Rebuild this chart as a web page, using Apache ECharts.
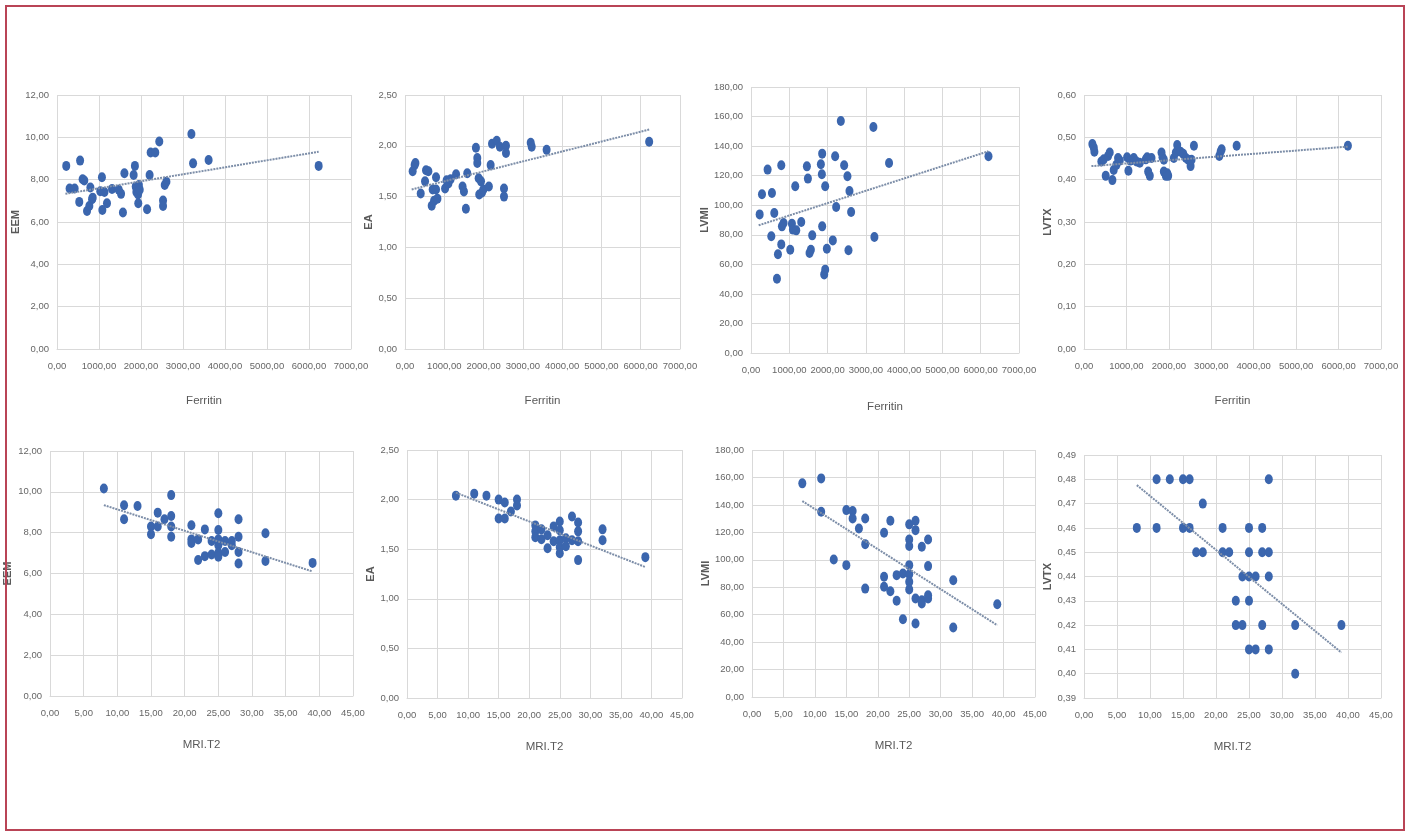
<!DOCTYPE html>
<html>
<head>
<meta charset="utf-8">
<title>Ferritin / MRI T2 scatter</title>
<script src="https://cdn.jsdelivr.net/npm/echarts@6/dist/echarts.min.js"></script>
<style>
  html, body { margin: 0; padding: 0; background: #fff; }
  #chart { width: 1415px; height: 832px; }
</style>
</head>
<body>
<div id="chart"></div>
<script>
// --- data ---
var eemFerritin = [[220,8.65],[300,7.58],[420,7.58],[550,8.9],[530,6.95],[610,8.02],[650,7.96],[715,6.52],[795,7.63],[770,6.76],[835,7.08],[850,7.15],[1030,7.45],[1070,8.11],[1080,6.57],[1130,7.42],[1190,6.89],[1310,7.56],[1470,7.52],[1525,7.33],[1570,6.45],[1605,8.3],[1825,8.22],[1855,8.65],[1875,7.67],[1890,7.42],[1930,7.3],[1950,7.75],[1935,6.89],[1970,7.52],[2145,6.6],[2205,8.22],[2230,9.28],[2340,9.28],[2435,9.8],[2525,7.01],[2525,6.76],[2565,7.75],[2605,7.9],[3200,10.16],[3240,8.77],[3610,8.93],[6230,8.65]];
var eaFerritin = [[195,1.75],[245,1.81],[265,1.83],[400,1.53],[510,1.65],[535,1.76],[595,1.75],[680,1.41],[705,1.57],[740,1.46],[790,1.69],[825,1.48],[790,1.57],[1020,1.58],[1060,1.66],[1105,1.63],[1160,1.67],[1300,1.72],[1465,1.6],[1500,1.55],[1550,1.38],[1585,1.73],[1805,1.98],[1840,1.88],[1840,1.83],[1875,1.68],[1890,1.52],[1935,1.65],[1960,1.54],[1995,1.57],[2135,1.6],[2180,1.81],[2215,2.02],[2335,2.05],[2415,1.99],[2520,1.58],[2520,1.5],[2570,2.0],[2570,1.93],[3200,2.03],[3225,1.99],[3605,1.96],[6215,2.04]];
var lvmiFerritin = [[226,93.8],[287,107.4],[434,124.1],[530,79],[547,108.3],[608,94.7],[678,50.3],[704,66.8],[791,127],[791,73.5],[808,85.7],[851,88],[1025,69.9],[1069,87.5],[1095,83.5],[1182,83],[1156,112.8],[1312,88.7],[1460,126.3],[1486,118],[1529,67.7],[1564,69.9],[1599,79.6],[1825,127.7],[1859,134.9],[1851,120.9],[1859,85.7],[1938,112.8],[1912,53.2],[1938,56.4],[1981,70.6],[2137,76.2],[2198,133.1],[2224,98.8],[2346,157],[2433,127],[2519,119.6],[2546,69.5],[2572,109.6],[2615,95.4],[3197,152.9],[3223,78.5],[3606,128.6],[6203,133.1]];
var lvtxFerritin = [[197,0.484],[230,0.476],[245,0.466],[409,0.443],[465,0.448],[512,0.409],[567,0.456],[606,0.464],[669,0.399],[700,0.423],[764,0.435],[803,0.451],[843,0.445],[1016,0.453],[1047,0.421],[1094,0.445],[1173,0.451],[1236,0.443],[1315,0.44],[1457,0.448],[1488,0.453],[1512,0.419],[1551,0.409],[1591,0.451],[1827,0.464],[1850,0.453],[1882,0.447],[1882,0.419],[1929,0.409],[1961,0.415],[1984,0.409],[2118,0.451],[2165,0.464],[2197,0.482],[2276,0.466],[2339,0.461],[2402,0.451],[2457,0.447],[2512,0.432],[2535,0.447],[2591,0.48],[3189,0.456],[3220,0.466],[3244,0.472],[3598,0.48],[6220,0.48]];

var eemT2 = [[8,10.16],[11,9.34],[11,8.66],[13,9.31],[15,8.3],[15,7.92],[16,8.98],[16,8.3],[17,8.66],[18,9.84],[18,8.82],[18,8.3],[18,7.8],[21,8.36],[21,7.67],[21,7.5],[22,7.67],[22,6.66],[23,8.16],[23,6.85],[24,7.59],[24,6.93],[25,8.95],[25,8.13],[25,7.67],[25,7.38],[25,7.02],[25,6.82],[26,7.59],[26,7.05],[27,7.59],[27,7.38],[28,8.66],[28,7.8],[28,7.05],[28,6.49],[32,7.97],[32,6.61],[39,6.52]];
var eaT2 = [[8,2.04],[11,2.06],[13,2.04],[15,2.0],[15,1.81],[16,1.97],[16,1.81],[17,1.88],[18,2.0],[18,1.94],[21,1.74],[21,1.68],[21,1.62],[22,1.7],[22,1.6],[23,1.64],[23,1.51],[24,1.73],[24,1.58],[25,1.78],[25,1.69],[25,1.59],[25,1.52],[25,1.46],[26,1.61],[26,1.53],[27,1.83],[27,1.59],[28,1.77],[28,1.68],[28,1.58],[28,1.39],[32,1.7],[32,1.59],[39,1.42]];
var lvmiT2 = [[8,155.7],[11,159.3],[11,135],[13,100.2],[15,136.2],[15,96.1],[16,135.5],[16,130.1],[17,122.8],[18,130.1],[18,111.4],[18,79],[21,119.7],[21,87.6],[21,80.3],[22,128.4],[22,77.1],[23,70.1],[23,88.8],[24,90],[24,56.7],[25,125.8],[25,114.8],[25,110],[25,96.1],[25,89.5],[25,83.9],[25,78.3],[26,128.4],[26,121.6],[26,71.8],[26,53.5],[27,109.5],[27,70.5],[27,68.1],[28,114.8],[28,95.4],[28,74.2],[28,71.8],[32,85.1],[32,50.6],[39,67.6]];
var lvtxT2 = [[11,0.48],[13,0.48],[15,0.48],[16,0.48],[28,0.48],[18,0.47],[8,0.46],[11,0.46],[15,0.46],[16,0.46],[21,0.46],[25,0.46],[27,0.46],[17,0.45],[18,0.45],[21,0.45],[22,0.45],[25,0.45],[27,0.45],[28,0.45],[24,0.44],[25,0.44],[26,0.44],[28,0.44],[23,0.43],[25,0.43],[23,0.42],[24,0.42],[27,0.42],[32,0.42],[39,0.42],[25,0.41],[26,0.41],[28,0.41],[32,0.40]];

// trend line end points as drawn in the figure
var trendEemFerritin = [[200,7.33],[6230,9.32]];
var trendEaFerritin = [[170,1.57],[6215,2.16]];
var trendLvmiFerritin = [[200,86.4],[6200,136.5]];
var trendLvtxFerritin = [[175,0.432],[6220,0.478]];
var trendEemT2 = [[8,9.35],[39,6.1]];
var trendEaT2 = [[8,2.07],[39,1.32]];
var trendLvmiT2 = [[8,142.8],[39,52.3]];
var trendLvtxT2 = [[8,0.4776],[39,0.4087]];

var ferritinTicks = [0, 7000, 1000];
var t2Ticks = [0, 45, 5];

var panels = [
  { pts: eemFerritin,  trend: trendEemFerritin,  xName: 'Ferritin', yName: 'EEM',  x: ferritinTicks, y: [0, 12, 2] },
  { pts: eaFerritin,   trend: trendEaFerritin,   xName: 'Ferritin', yName: 'EA',   x: ferritinTicks, y: [0, 2.5, 0.5] },
  { pts: lvmiFerritin, trend: trendLvmiFerritin, xName: 'Ferritin', yName: 'LVMI', x: ferritinTicks, y: [0, 180, 20] },
  { pts: lvtxFerritin, trend: trendLvtxFerritin, xName: 'Ferritin', yName: 'LVTX', x: ferritinTicks, y: [0, 0.6, 0.1] },
  { pts: eemT2,  trend: trendEemT2,  xName: 'MRI.T2', yName: 'EEM',  x: t2Ticks, y: [0, 12, 2] },
  { pts: eaT2,   trend: trendEaT2,   xName: 'MRI.T2', yName: 'EA',   x: t2Ticks, y: [0, 2.5, 0.5] },
  { pts: lvmiT2, trend: trendLvmiT2, xName: 'MRI.T2', yName: 'LVMI', x: t2Ticks, y: [0, 180, 20] },
  { pts: lvtxT2, trend: trendLvtxT2, xName: 'MRI.T2', yName: 'LVTX', x: t2Ticks, y: [0.39, 0.49, 0.01] }
];

// layout of each small chart (left, top, width, height, x-name gap, y-name gap)
var boxes = [
  [57, 95, 294, 254, 46, 35],
  [405, 95, 275, 254, 46, 27],
  [751, 87, 268, 266, 48, 35],
  [1084, 95, 297, 254, 46, 28],
  [50, 451, 303, 245, 43, 37],
  [407, 450, 275, 248, 43, 29],
  [752, 450, 283, 247, 43, 36],
  [1084, 455, 297, 243, 43, 27]
];

var FONT = '"Liberation Sans", Arial, sans-serif';
var gridColor = '#d9d9d9';
var dotColor = '#3b66ae';

function fmt(v) {
  return v.toFixed(2).replace('.', ',');
}

var grids = [], xAxes = [], yAxes = [], series = [];
panels.forEach(function (p, i) {
  var b = boxes[i];
  grids.push({ left: b[0], top: b[1], width: b[2], height: b[3] });
  xAxes.push({
    gridIndex: i, type: 'value',
    min: p.x[0], max: p.x[1], interval: p.x[2],
    name: p.xName, nameLocation: 'middle', nameGap: b[4],
    nameTextStyle: { fontFamily: FONT, fontSize: 11.5, color: '#595959' },
    axisLine: { show: true, lineStyle: { color: gridColor } },
    axisTick: { show: false },
    axisLabel: { formatter: fmt, fontFamily: FONT, fontSize: 9.5, color: '#666', margin: 12 },
    splitLine: { show: true, lineStyle: { color: gridColor } }
  });
  yAxes.push({
    gridIndex: i, type: 'value',
    min: p.y[0], max: p.y[1], interval: p.y[2],
    name: p.yName, nameLocation: 'middle', nameGap: b[5],
    nameTextStyle: { fontFamily: FONT, fontSize: 11, fontWeight: 'bold', color: '#595959' },
    axisLine: { show: false },
    axisTick: { show: false },
    axisLabel: { formatter: fmt, fontFamily: FONT, fontSize: 9.5, color: '#666', margin: 8 },
    splitLine: { show: true, lineStyle: { color: gridColor } }
  });
  series.push({
    type: 'scatter', xAxisIndex: i, yAxisIndex: i,
    data: p.pts, symbol: 'circle', symbolSize: [8, 10],
    itemStyle: { color: dotColor, opacity: 1 },
    z: 3
  });
  series.push({
    type: 'line', xAxisIndex: i, yAxisIndex: i,
    data: p.trend, showSymbol: false, symbol: 'none',
    lineStyle: { color: '#7d8ea8', width: 2, type: [2, 1] },
    z: 4, silent: true
  });
});

var chart = echarts.init(document.getElementById('chart'));
chart.setOption({
  animation: false,
  backgroundColor: '#fff',
  grid: grids,
  xAxis: xAxes,
  yAxis: yAxes,
  series: series,
  graphic: [{
    type: 'rect',
    shape: { x: 6, y: 6, width: 1398, height: 824 },
    style: { fill: 'none', stroke: '#b94456', lineWidth: 2 },
    z: 10
  }]
});
</script>
</body>
</html>
